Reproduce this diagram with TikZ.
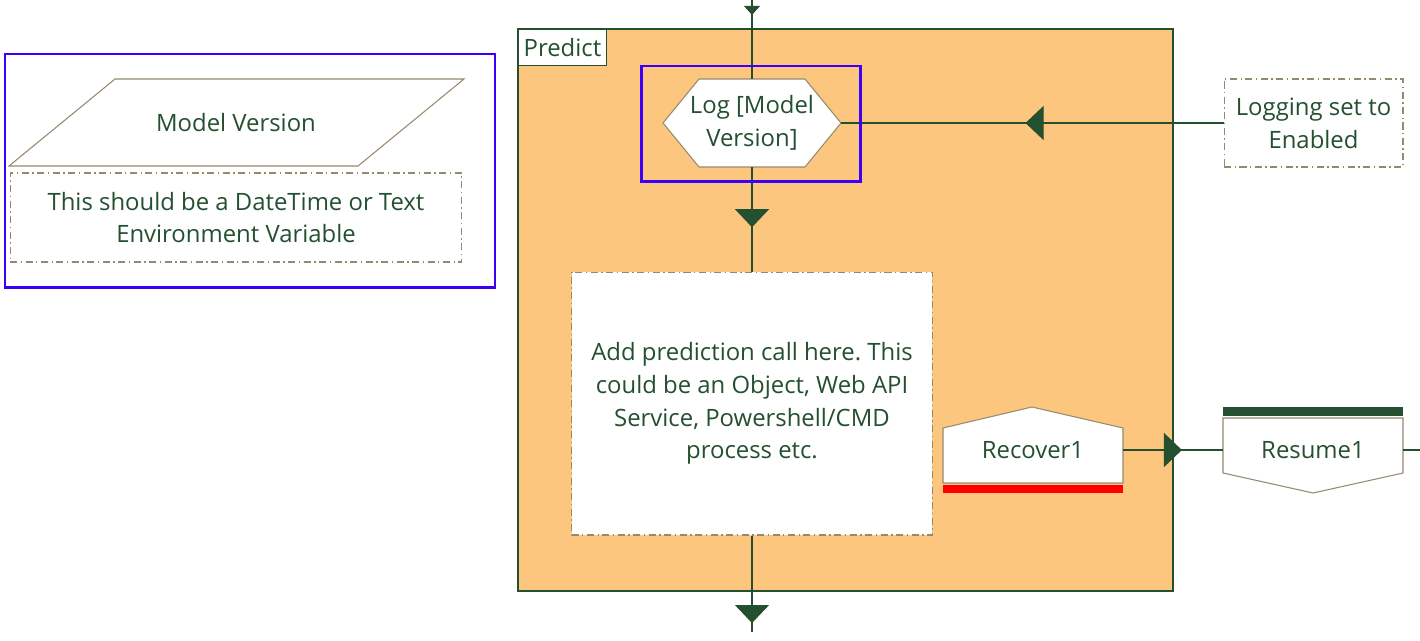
\documentclass[tikz,border=0pt]{standalone}
\usepackage{fontspec}
\setmainfont{Open Sans}
\frenchspacing
\usetikzlibrary{arrows.meta}
\usetikzlibrary{decorations.markings}
\definecolor{inkgreen}{RGB}{36,80,48}
\definecolor{grpfill}{RGB}{253,198,126}
\definecolor{selblue}{RGB}{60,0,250}
\definecolor{shapeline}{RGB}{150,138,110}
\tikzstyle{txt}=[text=inkgreen, font=\fontsize{13.6}{18.7}\selectfont, align=center, inner sep=0pt]
\tikzstyle{flow}=[draw=inkgreen, line width=0.6pt]
\tikzstyle{outline}=[draw=shapeline, fill=white, line width=0.6pt]
\tikzstyle{note}=[txt, draw=shapeline, fill=white, line width=0.6pt, dash pattern=on 4pt off 2pt on 0.8pt off 2pt]
\tikzstyle{sel}=[draw=selblue, line width=1.7pt]
\tikzset{
  midtip/.style={postaction=decorate, decoration={markings,
    mark=at position #1 with {\arrow{Triangle[width=0.68cm,length=0.36cm]}}}},
  smalltip/.style={postaction=decorate, decoration={markings,
    mark=at position #1 with {\arrow{Triangle[width=0.32cm,length=0.18cm]}}}}
}

\begin{document}
\begin{tikzpicture}[x=0.02cm,y=-0.02cm]
    \useasboundingbox (0,0) rectangle (1420,640);
    % left legend
    \draw[outline] (115,79) -- (464,79) -- (358,166) -- (9,166) -- cycle;
    \node [txt] (model) at (236,123) {Model Version};
    \node [note, minimum width=9.04cm, minimum height=1.78cm] (modelnote) at (236,217.5) {This should be a DateTime or Text\\Environment Variable};
    \draw[sel] (5,54) rectangle (495,287);

    % predict group
    \draw[draw=inkgreen, fill=grpfill, line width=0.6pt] (518,29) rectangle (1173,591);
    \node [txt, draw=inkgreen, fill=white, line width=0.5pt, anchor=north west, minimum width=1.76cm, minimum height=0.72cm] (predict) at (518,29) {Predict};

    \draw[outline] (663,123) -- (699,79) -- (805,79) -- (841,123) -- (805,167) -- (699,167) -- cycle;
    \node [txt, minimum width=3.56cm, minimum height=1.76cm] (log) at (752,123) {Log [Model\\Version]};
    \node [note, minimum width=7.22cm, minimum height=5.26cm] (act) at (752,403.5) {Add prediction call here. This\\could be an Object, Web API\\Service, Powershell/CMD\\process etc.};

    \draw[outline] (943,483) -- (943,428) -- (1032,407) -- (1123,428) -- (1123,483) -- cycle;
    \fill[red] (943,485) rectangle (1123,493);
    \node [txt, minimum width=3.6cm, minimum height=1.1cm] (rec) at (1033,450) {Recover1};

    % right side
    \node [note, minimum width=3.58cm, minimum height=1.76cm] (logging) at (1313.5,123) {Logging set to\\Enabled};
    \fill[inkgreen] (1223,407) rectangle (1403,416);
    \draw[outline] (1223,418) -- (1403,418) -- (1403,473) -- (1313,493) -- (1223,473) -- cycle;
    \node [txt, minimum width=3.6cm, minimum height=1.1cm] (res) at (1313,450) {Resume1};

    \coordinate (top) at (752,0);
    \coordinate (bottom) at (752,632);
    \coordinate (out) at (1420,450);

    \draw[flow, smalltip=0.19] (top) -- (log.north);
    \draw[flow, midtip=0.575] (log.south) -- (act.north);
    \draw[flow, midtip=0.907] (act.south) -- (bottom);
    \draw[flow, midtip=0.518] (logging.west) -- (log.east);
    \draw[flow, midtip=0.59] (rec.east) -- (res.west);
    \draw[flow] (res.east) -- (out);

    \draw[sel] (641,66) rectangle (860,181);
\end{tikzpicture}
\end{document}
